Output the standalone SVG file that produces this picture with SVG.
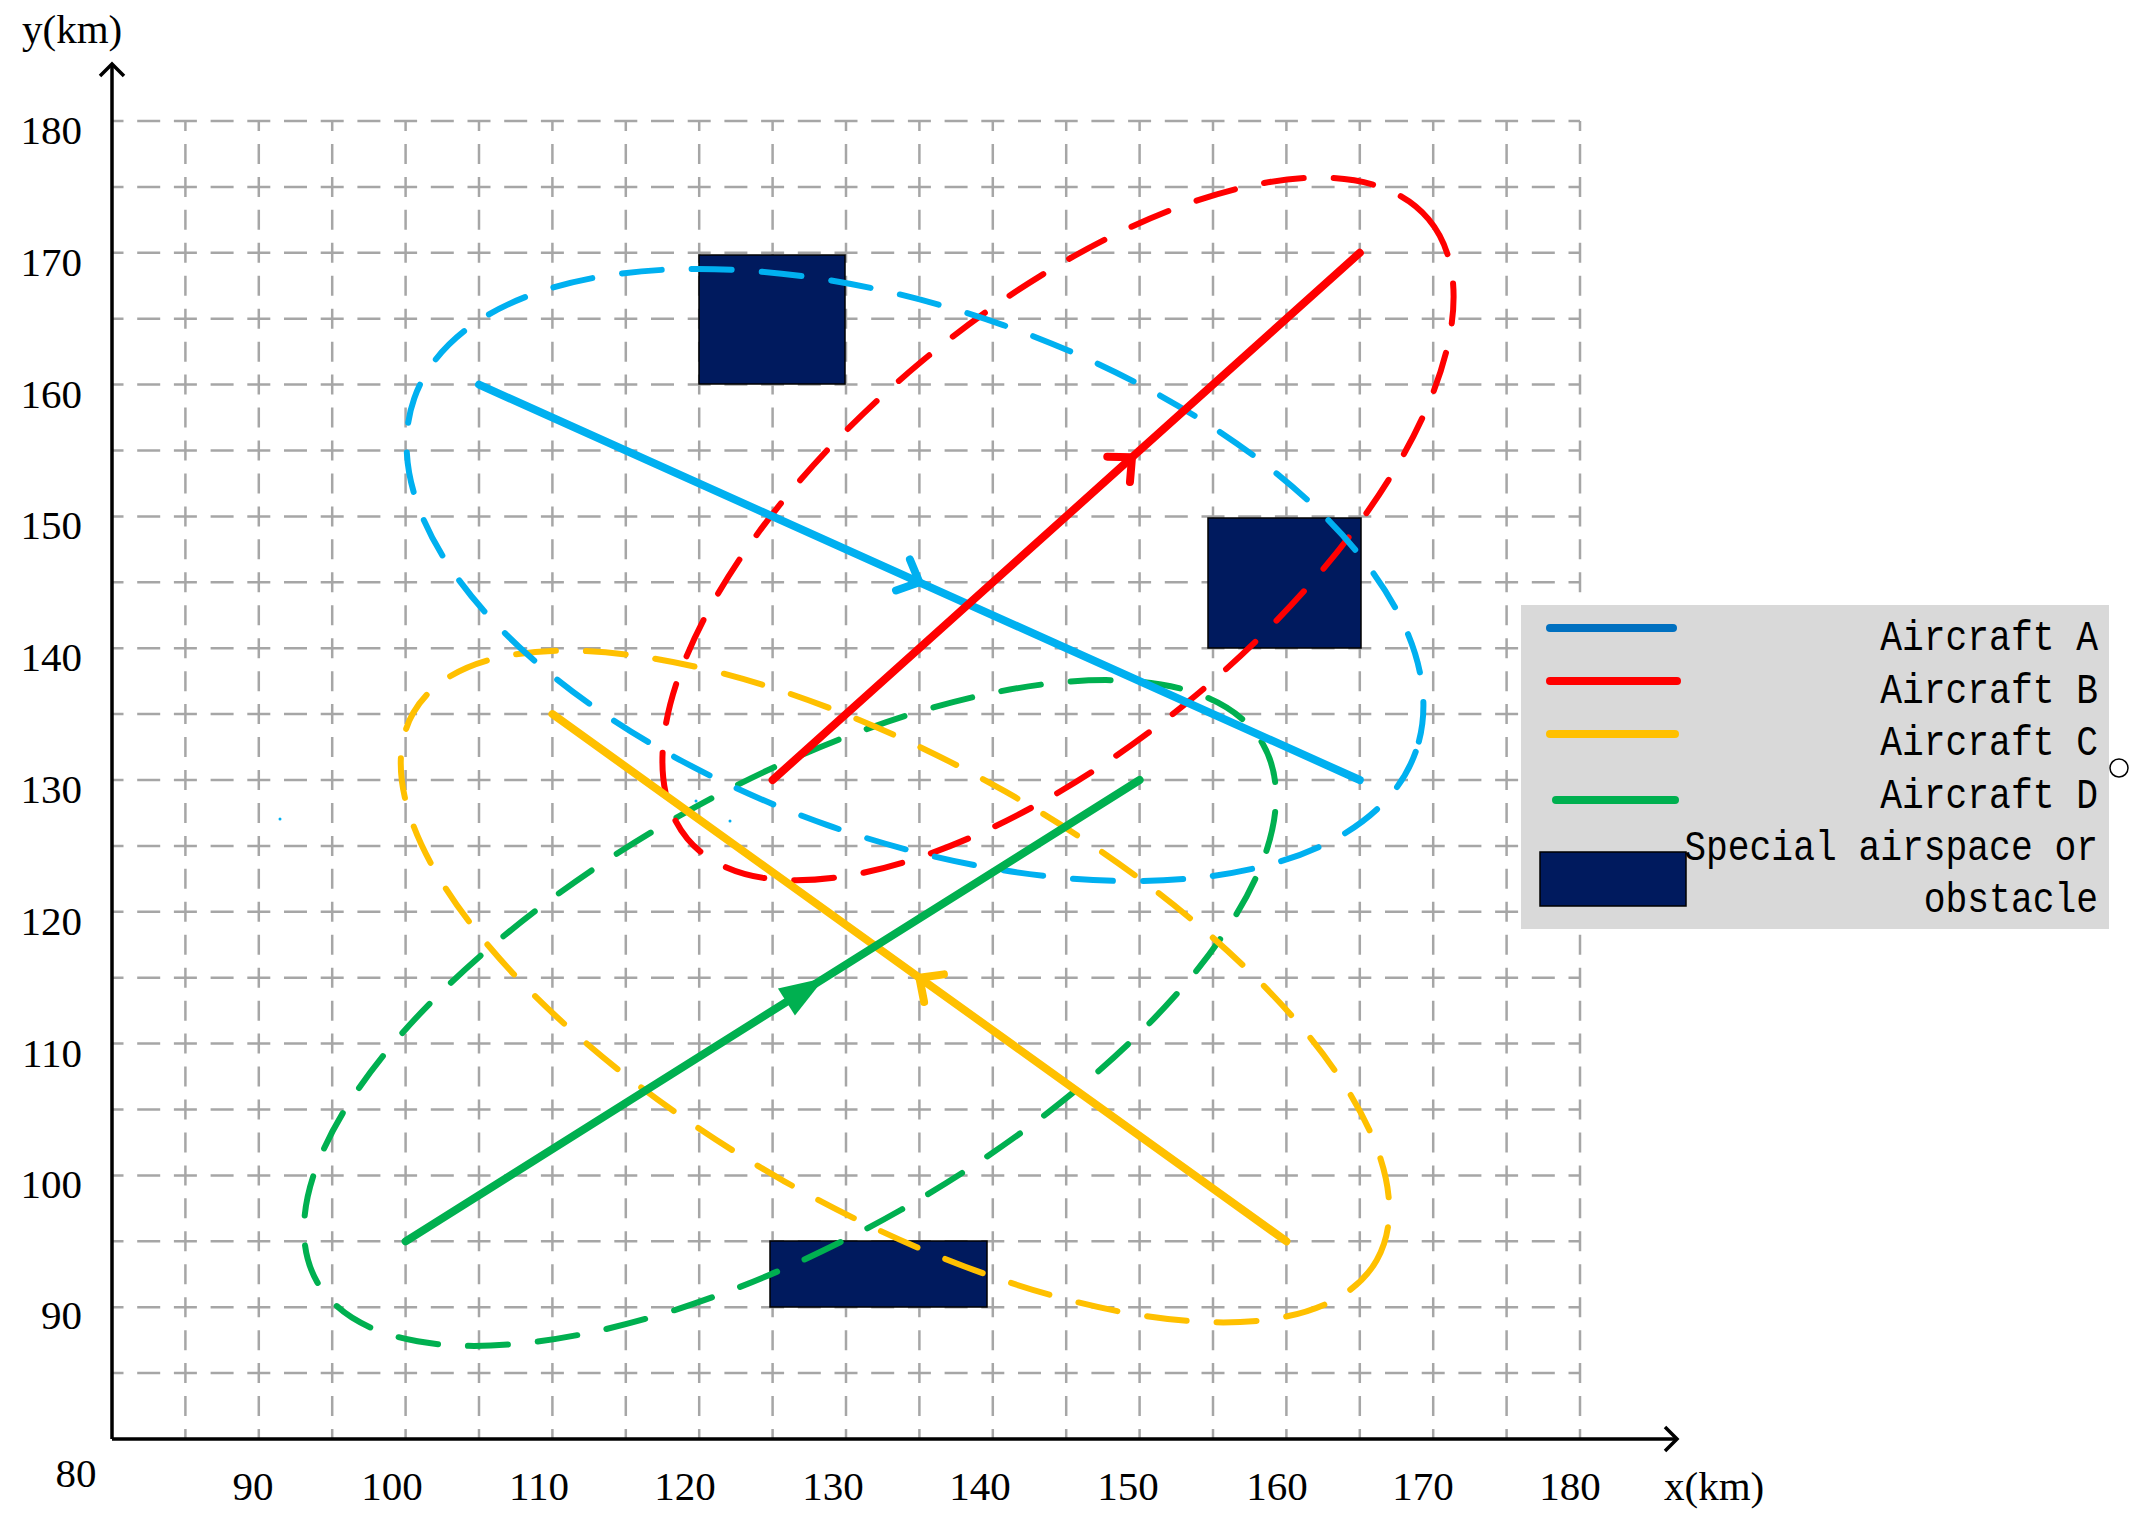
<svg xmlns="http://www.w3.org/2000/svg" width="2141" height="1528" viewBox="0 0 2141 1528">
<style>
.grid line{stroke:#A6A6A6;stroke-width:2.5;fill:none}
.gh{stroke-dasharray:23 13.7;stroke-dashoffset:11.5}
.gv{stroke-dasharray:20 12.95;stroke-dashoffset:10}
.axis{stroke:#000;stroke-width:3.5;fill:none}
.lbl{font-family:"Liberation Serif","Times New Roman",serif;font-size:41px;fill:#000}
.ell{fill:none;stroke-width:6;stroke-dasharray:40 30;stroke-linecap:round}
.trk{fill:none;stroke-width:8;stroke-linecap:round;stroke-linejoin:round}
.obs{fill:#001A5E;stroke:#000;stroke-width:1.5}
.leg{font-family:"Liberation Mono","Courier New",monospace;font-size:36.3px;fill:#000;text-anchor:end}
.legline{stroke-width:8;stroke-linecap:round}
</style>
<defs>
<marker id="chevA" markerUnits="userSpaceOnUse" orient="auto" overflow="visible" markerWidth="1" markerHeight="1"><path d="M-18,-17 L0,0 L-18,17" fill="none" stroke="#00B0F0" stroke-width="8" stroke-linecap="round" stroke-linejoin="round"/></marker>
<marker id="chevB" markerUnits="userSpaceOnUse" orient="auto" overflow="visible" markerWidth="1" markerHeight="1"><path d="M-18,-17 L0,0 L-18,17" fill="none" stroke="#FF0000" stroke-width="8" stroke-linecap="round" stroke-linejoin="round"/></marker>
<marker id="chevC" markerUnits="userSpaceOnUse" orient="auto" overflow="visible" markerWidth="1" markerHeight="1"><path d="M-18,-17 L0,0 L-18,17" fill="none" stroke="#FFC000" stroke-width="8" stroke-linecap="round" stroke-linejoin="round"/></marker>
<marker id="triD" markerUnits="userSpaceOnUse" orient="auto" overflow="visible" markerWidth="1" markerHeight="1"><path d="M3,0 L-42,-16 L-42,16 Z" fill="#00B050"/></marker>
</defs>
<rect width="2141" height="1528" fill="#fff"/>

<g id="grid" class="grid">
<line class="gv" x1="185.4" y1="121" x2="185.4" y2="1439"/>
<line class="gv" x1="258.8" y1="121" x2="258.8" y2="1439"/>
<line class="gv" x1="332.2" y1="121" x2="332.2" y2="1439"/>
<line class="gv" x1="405.6" y1="121" x2="405.6" y2="1439"/>
<line class="gv" x1="479" y1="121" x2="479" y2="1439"/>
<line class="gv" x1="552.4" y1="121" x2="552.4" y2="1439"/>
<line class="gv" x1="625.8" y1="121" x2="625.8" y2="1439"/>
<line class="gv" x1="699.2" y1="121" x2="699.2" y2="1439"/>
<line class="gv" x1="772.6" y1="121" x2="772.6" y2="1439"/>
<line class="gv" x1="846" y1="121" x2="846" y2="1439"/>
<line class="gv" x1="919.4" y1="121" x2="919.4" y2="1439"/>
<line class="gv" x1="992.8" y1="121" x2="992.8" y2="1439"/>
<line class="gv" x1="1066.2" y1="121" x2="1066.2" y2="1439"/>
<line class="gv" x1="1139.6" y1="121" x2="1139.6" y2="1439"/>
<line class="gv" x1="1213" y1="121" x2="1213" y2="1439"/>
<line class="gv" x1="1286.4" y1="121" x2="1286.4" y2="1439"/>
<line class="gv" x1="1359.8" y1="121" x2="1359.8" y2="1439"/>
<line class="gv" x1="1433.2" y1="121" x2="1433.2" y2="1439"/>
<line class="gv" x1="1506.6" y1="121" x2="1506.6" y2="1439"/>
<line class="gv" x1="1580" y1="121" x2="1580" y2="1439"/>
<line class="gh" x1="112" y1="121" x2="1580" y2="121"/>
<line class="gh" x1="112" y1="186.9" x2="1580" y2="186.9"/>
<line class="gh" x1="112" y1="252.8" x2="1580" y2="252.8"/>
<line class="gh" x1="112" y1="318.7" x2="1580" y2="318.7"/>
<line class="gh" x1="112" y1="384.6" x2="1580" y2="384.6"/>
<line class="gh" x1="112" y1="450.5" x2="1580" y2="450.5"/>
<line class="gh" x1="112" y1="516.4" x2="1580" y2="516.4"/>
<line class="gh" x1="112" y1="582.3" x2="1580" y2="582.3"/>
<line class="gh" x1="112" y1="648.2" x2="1580" y2="648.2"/>
<line class="gh" x1="112" y1="714.1" x2="1580" y2="714.1"/>
<line class="gh" x1="112" y1="780" x2="1580" y2="780"/>
<line class="gh" x1="112" y1="845.9" x2="1580" y2="845.9"/>
<line class="gh" x1="112" y1="911.8" x2="1580" y2="911.8"/>
<line class="gh" x1="112" y1="977.7" x2="1580" y2="977.7"/>
<line class="gh" x1="112" y1="1043.6" x2="1580" y2="1043.6"/>
<line class="gh" x1="112" y1="1109.5" x2="1580" y2="1109.5"/>
<line class="gh" x1="112" y1="1175.4" x2="1580" y2="1175.4"/>
<line class="gh" x1="112" y1="1241.3" x2="1580" y2="1241.3"/>
<line class="gh" x1="112" y1="1307.2" x2="1580" y2="1307.2"/>
<line class="gh" x1="112" y1="1373.1" x2="1580" y2="1373.1"/>
</g>

<g id="axes">
<path class="axis" d="M112,1439 L112,64"/>
<path class="axis" d="M100,76 L112,64 L124,76"/>
<path class="axis" d="M112,1439 L1677,1439"/>
<path class="axis" d="M1665,1427 L1677,1439 L1665,1451"/>
<text class="lbl" x="22" y="43">y(km)</text>
<text class="lbl" x="1664" y="1500">x(km)</text>
<g text-anchor="end">
<text class="lbl" x="82" y="144">180</text>
<text class="lbl" x="82" y="276">170</text>
<text class="lbl" x="82" y="408">160</text>
<text class="lbl" x="82" y="539">150</text>
<text class="lbl" x="82" y="671">140</text>
<text class="lbl" x="82" y="803">130</text>
<text class="lbl" x="82" y="935">120</text>
<text class="lbl" x="82" y="1067">110</text>
<text class="lbl" x="82" y="1198">100</text>
<text class="lbl" x="82" y="1329">90</text>
</g>
<g text-anchor="middle">
<text class="lbl" x="76" y="1487">80</text>
<text class="lbl" x="253" y="1500">90</text>
<text class="lbl" x="392" y="1500">100</text>
<text class="lbl" x="539" y="1500">110</text>
<text class="lbl" x="685" y="1500">120</text>
<text class="lbl" x="833" y="1500">130</text>
<text class="lbl" x="980" y="1500">140</text>
<text class="lbl" x="1128" y="1500">150</text>
<text class="lbl" x="1277" y="1500">160</text>
<text class="lbl" x="1423" y="1500">170</text>
<text class="lbl" x="1570" y="1500">180</text>
</g>
</g>

<g id="obstacle1"><rect class="obs" x="699" y="255" width="146" height="129"/></g>
<g id="obstacle2"><rect class="obs" x="1208" y="518" width="153" height="130"/></g>
<g id="obstacle3"><rect class="obs" x="770" y="1241" width="217" height="66"/></g>

<g id="zones">
<ellipse id="zoneD" class="ell" stroke="#00B050" cx="790" cy="1013" rx="544" ry="226" transform="rotate(-29.6 790 1013)"/>
<ellipse id="zoneC" class="ell" stroke="#FFC000" cx="895" cy="986.5" rx="554" ry="224" transform="rotate(29.6 895 986.5)"/>
<ellipse id="zoneB" class="ell" stroke="#FF0000" cx="1058" cy="529" rx="483" ry="216" transform="rotate(-39.9 1058 529)"/>
<ellipse id="zoneA" class="ell" stroke="#00B0F0" cx="915" cy="575" rx="531" ry="265" transform="rotate(19.45 915 575)"/>
</g>

<g id="tracks">
<path id="trackA" class="trk" stroke="#00B0F0" d="M479,384.6 L919.4,582.3 L1359.8,780" marker-mid="url(#chevA)"/>
<path id="trackB" class="trk" stroke="#FF0000" d="M772.6,780 L1132,457.3 L1359.8,252.8" marker-mid="url(#chevB)"/>
<path id="trackC" class="trk" stroke="#FFC000" d="M1286.4,1241.3 L919.4,977.7 L552.4,714.1" marker-mid="url(#chevC)"/>
<path id="trackD" class="trk" stroke="#00B050" stroke-width="9" d="M405.6,1241.3 L822,979.6 L1139.6,780" marker-mid="url(#triD)"/>
</g>

<g id="specks" fill="#00B0F0">
<circle cx="280" cy="819" r="1.5"/>
<circle cx="696" cy="801" r="1.5"/>
<circle cx="730" cy="821" r="1.5"/>
</g>

<g id="legend">
<rect x="1521" y="605" width="588" height="324" fill="#D9D9D9"/>
<line class="legline" x1="1550" y1="628" x2="1673" y2="628" stroke="#0070C0"/>
<line class="legline" x1="1550" y1="681" x2="1677" y2="681" stroke="#FF0000"/>
<line class="legline" x1="1550" y1="734" x2="1675" y2="734" stroke="#FFC000"/>
<line class="legline" x1="1556" y1="800" x2="1675" y2="800" stroke="#00B050"/>
<rect class="obs" x="1540" y="852" width="146" height="54"/>
<text class="leg" transform="translate(2098,650) scale(1,1.18)">Aircraft A</text>
<text class="leg" transform="translate(2098,703) scale(1,1.18)">Aircraft B</text>
<text class="leg" transform="translate(2098,755) scale(1,1.18)">Aircraft C</text>
<text class="leg" transform="translate(2098,808) scale(1,1.18)">Aircraft D</text>
<text class="leg" transform="translate(2098,860) scale(1,1.18)">Special airspace or</text>
<text class="leg" transform="translate(2098,912) scale(1,1.18)">obstacle</text>
</g>
<circle cx="2119" cy="768" r="9" fill="none" stroke="#000" stroke-width="1.5"/>
</svg>
